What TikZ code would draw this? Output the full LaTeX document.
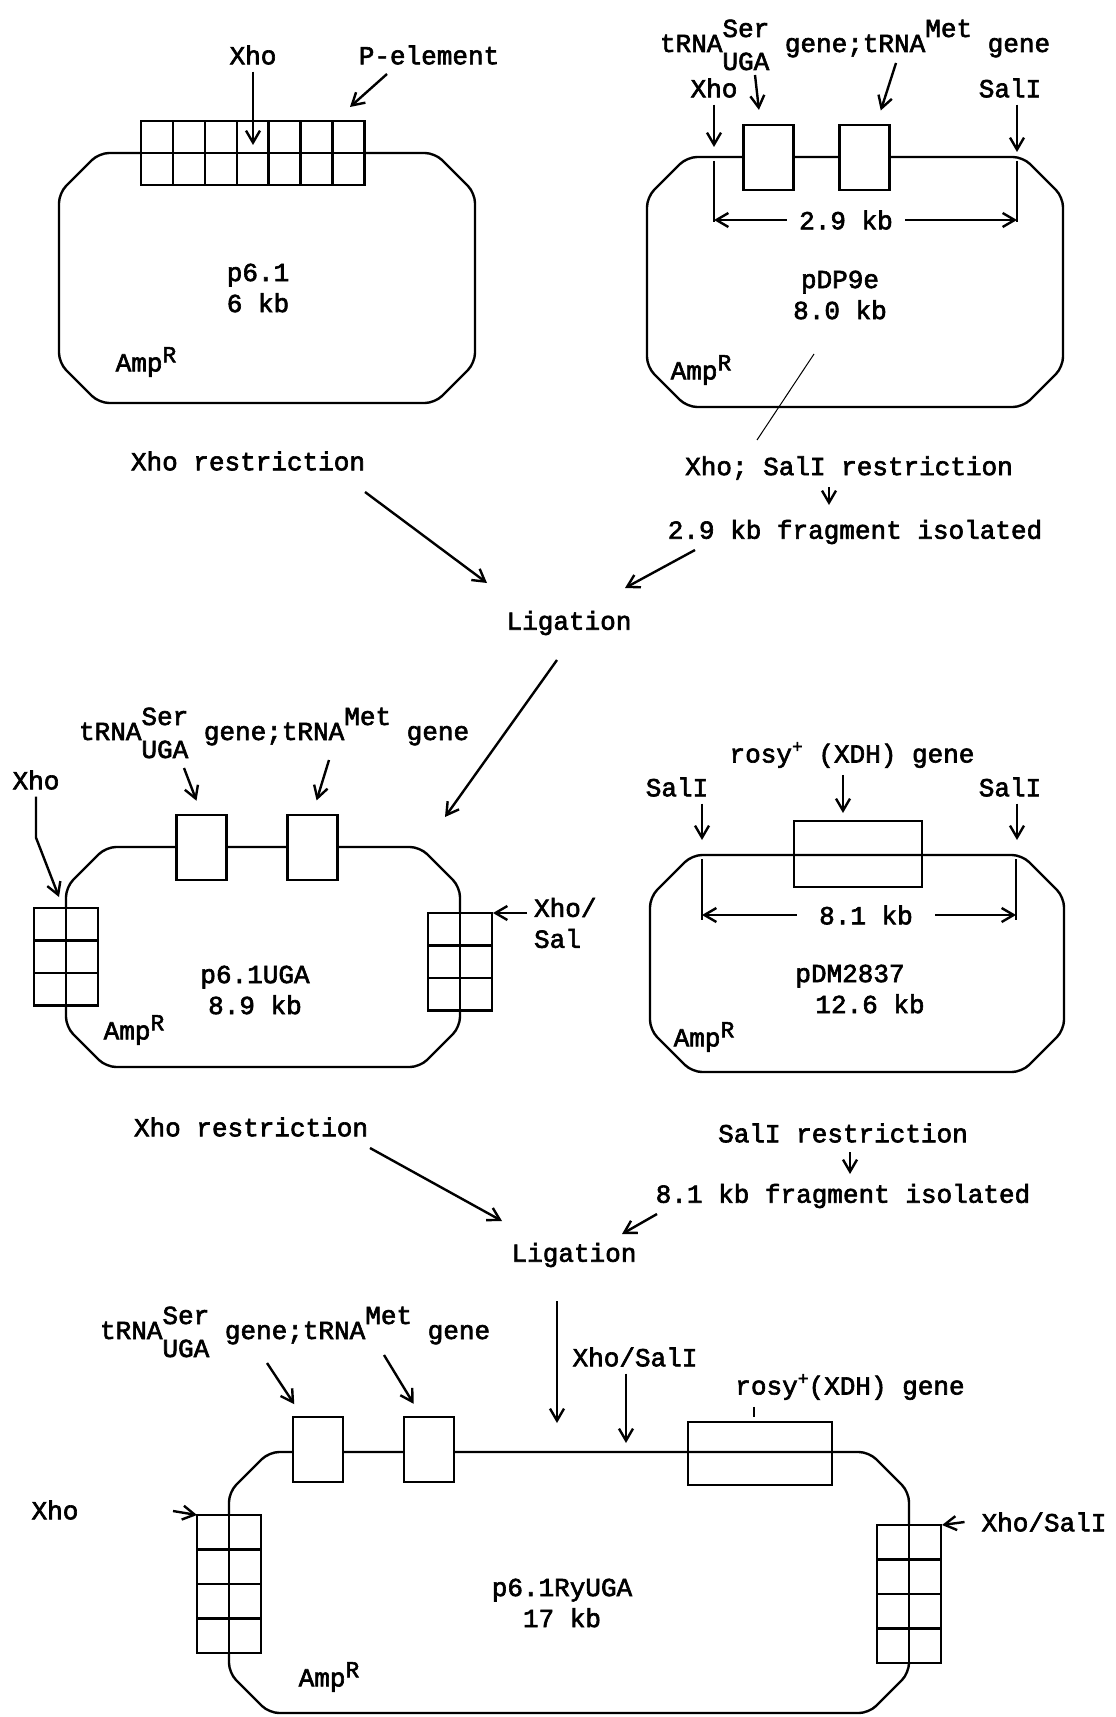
\documentclass[tikz,border=0pt]{standalone}
\usepackage{fontspec}
\setmainfont{Liberation Mono}[RawFeature={embolden=2.4}]
\usetikzlibrary{arrows.meta}
\newcommand{\ampr}{Amp\raisebox{4.5pt}{\fontsize{11.5pt}{11.5pt}\selectfont R}}
\newcommand{\rosyplus}{rosy\raisebox{5pt}{\fontsize{9pt}{9pt}\selectfont +}}
\newcommand{\trnatext}{tRNA\rlap{\raisebox{7.5pt}{Ser}}\raisebox{-9pt}{UGA} gene;tRNA\raisebox{7.5pt}{Met} gene}
% left, top, right, bottom, corner
\newcommand{\drawplasmid}[5]{%
  \draw[plasmid] (#1+#5,#2) -- (#3-#5,#2) -- (#3,#2+#5) -- (#3,#4-#5)
    -- (#3-#5,#4) -- (#1+#5,#4) -- (#1,#4-#5) -- (#1,#2+#5) -- cycle;}
% x, y, columns, rows, cell width, cell height
\newcommand{\cellgrid}[6]{%
  \fill[white] (#1,#2) rectangle ++(#3*#5,#4*#6);
  \foreach \i in {0,...,#3} \draw[ink,line cap=rect] (#1+\i*#5,#2) -- ++(0,#4*#6);
  \foreach \j in {0,...,#4} \draw[ink,line cap=rect] (#1,#2+\j*#6) -- ++(#3*#5,0);}

\begin{document}
\begin{tikzpicture}[x=0.5pt,y=-0.5pt,
  every node/.style={font=\fontsize{13pt}{15.5pt}\selectfont},
  ink/.style={line width=1.2pt},
  plasmid/.style={ink,rounded corners=5pt},
  arr/.style={ink,-{Straight Barb[length=6pt,width=7pt]}},
  genebox/.style={draw,ink,fill=white,inner sep=0pt,minimum width=25pt,minimum height=32.5pt},
  rosybox/.style={draw,ink,inner sep=0pt},
  dimtext/.style={inner xsep=6pt}
]
\path[use as bounding box,fill=white] (0,0) rectangle (1115,1717);

% p6.1
\drawplasmid{59}{153}{475}{403}{40}
\cellgrid{141}{121}{7}{2}{31.9}{32}
\node (xhoA) at (253,55) {Xho};
\node (pelA) at (429,55) {P-element};
\coordinate (xsiteA) at (253,145);
\coordinate (pelsite) at (350,107);
\draw[arr] (xhoA) -- (xsiteA);
\draw[arr] ([shift={(-21pt,-9.5pt)}]pelA.center) -- (pelsite);
\node[align=center] (p61) at (258,288) {p6.1\\6 kb};
\node (ampA) at (146,362) {\ampr};
\node (cutA) at (248,461) {Xho restriction};

% pDP9e
\drawplasmid{647}{157}{1063}{407}{40}
\node[genebox] (ugaB) at (768.5,157.5) {};
\node[genebox] (metB) at (864.5,157.5) {};
\node[anchor=base west] (trnaB) at (653,52) {\trnatext};
\node (xhoB) at (714,88) {Xho};
\node (salB) at (1010,88) {SalI};
\coordinate (xsiteB) at (714,147);
\coordinate (ssiteB) at (1017,152);
\draw[arr] (xhoB) -- (xsiteB);
\draw[arr] ([xshift=3.5pt]salB.south) -- (ssiteB);
\draw[arr,shorten >=7pt] ([shift={(51pt,-11.5pt)}]trnaB.base west) -- ([xshift=-4pt]ugaB.north);
\draw[arr,shorten >=7pt] ([shift={(121.5pt,-5.5pt)}]trnaB.base west) -- ([xshift=6pt]metB.north);
\coordinate (xtickB) at (714,161);
\coordinate (stickB) at (1017,161);
\draw[ink] (xtickB) -- ++(0,61);
\draw[ink] (stickB) -- ++(0,61);
\node[dimtext] (dimB) at (846,220) {2.9 kb};
\draw[arr] (dimB) -- (dimB -| xtickB);
\draw[arr] (dimB) -- (dimB -| stickB);
\node[align=center] (pdp) at (840,295) {pDP9e\\8.0 kb};
\node (ampB) at (701,370) {\ampr};
\draw[line width=0.5pt] (814,354) -- (757,440);
\node (cutB) at (849,468) {Xho; SalI restriction};
\node (fragB) at (855,532) {2.9 kb fragment isolated};
\draw[arr] ([shift={(-10pt,-9.5pt)}]cutB.center) -- ([shift={(-13pt,13.5pt)}]fragB.center);

% first ligation
\node (ligA) at (569,623) {Ligation};
\draw[arr] ([shift={(58.5pt,-15.5pt)}]cutA.center) -- ([shift={(-41pt,20pt)}]ligA.center);
\draw[arr] ([shift={(-80pt,-9pt)}]fragB.center) -- ([shift={(28pt,17.5pt)}]ligA.center);
\coordinate (ligsiteC) at (445,817);
\draw[arr] ([shift={(-6pt,-18.5pt)}]ligA.center) -- (ligsiteC);

% p6.1UGA
\drawplasmid{66}{847}{460}{1067}{40}
\cellgrid{34}{908}{2}{3}{32}{32.5}
\cellgrid{428}{913}{2}{3}{32}{32.5}
\node[genebox] (ugaC) at (201.5,847.5) {};
\node[genebox] (metC) at (312.5,847.5) {};
\node[anchor=base west] (trnaC) at (72,740) {\trnatext};
\draw[arr,shorten >=7pt] ([shift={(56pt,-14pt)}]trnaC.base west) -- (ugaC.north);
\draw[arr,shorten >=7pt] ([shift={(128.5pt,-10pt)}]trnaC.base west) -- (metC.north);
\node (xhoC) at (36,780) {Xho};
\coordinate (xsiteC) at (59,897);
\draw[arr] (xhoC.south) -- ++(0,41) -- (xsiteC);
\node[align=left,anchor=west] (xsC) at (527,923) {Xho/\\Sal};
\coordinate (xssiteC) at (493,913);
\draw[arr] ([yshift=5pt]xsC.west) -- (xssiteC);
\node[align=center] (p61uga) at (255,990) {p6.1UGA\\8.9 kb};
\node (ampC) at (134,1030) {\ampr};

% pDM2837
\drawplasmid{650}{855}{1064}{1072}{42}
\node[rosybox,minimum width=64pt,minimum height=33pt] (rosyD) at (858,854) {};
\node (rosylD) at (852,755) {\rosyplus{} (XDH) gene};
\node (salD1) at (677,787) {SalI};
\node (salD2) at (1010,787) {SalI};
\coordinate (rsiteD) at (843,813);
\coordinate (ssiteD1) at (702,840);
\coordinate (ssiteD2) at (1017,840);
\draw[arr] ([xshift=-4.5pt]rosylD.south) -- (rsiteD);
\draw[arr] ([xshift=12.5pt]salD1.south) -- (ssiteD1);
\draw[arr] ([xshift=3.5pt]salD2.south) -- (ssiteD2);
\coordinate (stickD1) at (702,859);
\coordinate (stickD2) at (1016,859);
\draw[ink] (stickD1) -- ++(0,61);
\draw[ink] (stickD2) -- ++(0,61);
\node[dimtext,inner xsep=11pt] (dimD) at (866,915) {8.1 kb};
\draw[arr] (dimD) -- (dimD -| stickD1);
\draw[arr] (dimD) -- (dimD -| stickD2);
\node[align=center] (pdm) at (850,989) {pDM2837\\\hspace*{20pt}12.6 kb};
\node (ampD) at (704,1037) {\ampr};

% second ligation
\node (cutC) at (251,1127) {Xho restriction};
\node (cutD) at (843,1133) {SalI restriction};
\node (fragD) at (843,1196) {8.1 kb fragment isolated};
\node (ligB) at (574,1255) {Ligation};
\draw[arr] ([shift={(3.5pt,-9.5pt)}]cutD.center) -- ([shift={(3.5pt,11pt)}]fragD.center);
\draw[arr] ([shift={(59.5pt,-10.5pt)}]cutC.center) -- ([shift={(-36pt,17pt)}]ligB.center);
\draw[arr] ([shift={(-93pt,-9pt)}]fragD.center) -- ([shift={(24pt,10.5pt)}]ligB.center);
\coordinate (ligsiteE) at (557,1423);
\draw[arr] ([shift={(-8.5pt,-23pt)}]ligB.center) -- (ligsiteE);

% p6.1RyUGA
\drawplasmid{229}{1452}{909}{1713}{40}
\cellgrid{197}{1515}{2}{4}{32}{34.5}
\cellgrid{877}{1525}{2}{4}{32}{34.5}
\node[genebox] (ugaE) at (318,1449.5) {};
\node[genebox] (metE) at (429,1449.5) {};
\node[rosybox,minimum width=72pt,minimum height=31.5pt] (rosyE) at (760,1453.5) {};
\node[anchor=base west] (trnaE) at (93,1339) {\trnatext};
\draw[arr,shorten >=7pt] ([shift={(87pt,-12pt)}]trnaE.base west) -- ([xshift=-8pt]ugaE.north);
\draw[arr,shorten >=7pt] ([shift={(145.5pt,-8pt)}]trnaE.base west) -- ([xshift=-4pt]metE.north);
\node (xsF) at (635,1357) {Xho/SalI};
\coordinate (xssiteF) at (626,1443);
\draw[arr] ([xshift=-4.5pt]xsF.south) -- (xssiteF);
\node (rosylF) at (850,1387) {\rosyplus(XDH) gene};
\coordinate (tickF) at ([xshift=-48pt]rosylF.south);
\draw[ink,shorten >=2pt] (tickF) -- (tickF |- rosyE.north);
\node (xhoE) at (55,1510) {Xho};
\coordinate (xfromE) at (173,1511);
\coordinate (xsiteE) at (197,1515);
\draw[arr] (xfromE) -- (xsiteE);
\node (xsE) at (1044,1522) {Xho/SalI};
\coordinate (xssiteE) at (942,1525);
\draw[arr] ([xshift=-5pt]xsE.west) -- (xssiteE);
\node[align=center] (p61ry) at (562,1603) {p6.1RyUGA\\17 kb};
\node (ampE) at (329,1677) {\ampr};
\end{tikzpicture}
\end{document}
